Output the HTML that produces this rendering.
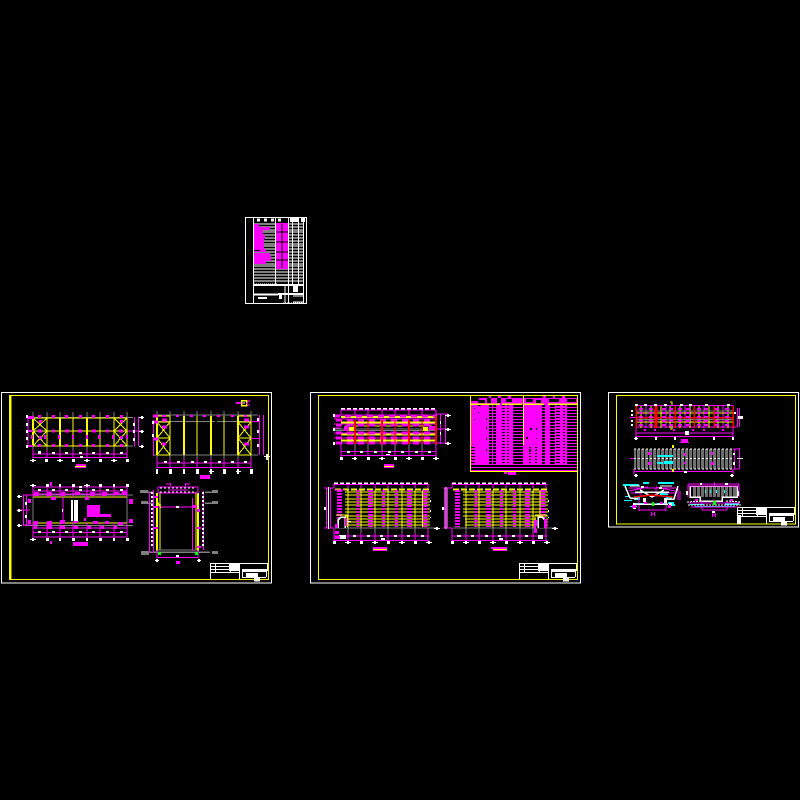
<!DOCTYPE html>
<html lang="en"><head><meta charset="utf-8"><title>Structural drawing sheets</title>
<style>html,body{margin:0;padding:0;background:#000}svg{display:block}</style></head>
<body>
<svg xmlns="http://www.w3.org/2000/svg" width="800" height="800" viewBox="0 0 800 800" shape-rendering="crispEdges" fill="none">
<defs>
<pattern id="st" width="4" height="3" patternUnits="userSpaceOnUse"><rect width="4" height="3" fill="#f0f"/><rect width="4" height="2" fill="#000"/></pattern>
<pattern id="st2" width="4" height="3" patternUnits="userSpaceOnUse"><rect width="4" height="3" fill="#f0f"/><rect width="4" height="1" fill="#000"/></pattern>
<pattern id="gs" width="4" height="4" patternUnits="userSpaceOnUse"><rect width="4" height="4" fill="#6e6e6e"/><rect width="1" height="4" fill="#000"/></pattern>
<g id="tb">
<path stroke="#fff" d="M0 .5H58M.5 0V16.5M29.5 0V16.5M0 9.5H29M5.5 0V9M20.5 0V9M0 3.500H20M0 6.500H20M57.500 0V8M32.500 9V14M56.500 9V14M32 14.500H56"/>
<path fill="#fff" d="M19 1h10v7h-10zM32 6h25v3h-25zM36 10h12v5h-12zM44 15h6v3.500h-6z"/>
</g>
<g id="fg">
<path stroke="#fff" stroke-width="1.500" stroke-dasharray="4 2" d="M334 483H430"/>
<path stroke="#f0f" d="M334 484.500H429M334 484V488M348 484V488M361 484V488M375 484V488M388 484V488M402 484V488M415 484V488M428 484V490"/>
<path stroke="#ff0" d="M345 492H430M345 495H430M345 499H430M345 502H430M345 505H430M345 509H430M345 512H430M345 516H430M347 519H430M347 522H430M347 525H430M348 490V528M361 490V528M375 490V528M388 490V528M402 490V528M415 490V528"/>
<path stroke="#ff0" stroke-width="2" stroke-dasharray="6 2" d="M335 489.500H430"/>
<path stroke="#f0f" stroke-width="5" stroke-dasharray="2 1" d="M339.500 490V527M370.500 490V527M409.500 490V527M425 490V527"/>
<path stroke="#f0f" stroke-width="3" stroke-dasharray="2 1" d="M358 490V527M383.500 490V527M396.500 490V527"/>
<path stroke="#808080" d="M335 528H437M348 528V536M361 528V536M375 528V536M388 528V536M402 528V536M415 528V536M428 528V536"/>
<path stroke="#f0f" d="M334 536H429M334 540.500H429M334 528V544M348 533V542M361 533V542M375 533V542M388 533V542M402 533V542M415 533V542M428 528V542"/>
<path stroke="#fff" stroke-width="2" d="M339 536h4M353 536h3M367 536h3M380 536h3M394 536h3M407 536h3M421 536h3M381 539h4"/>
<path fill="#fff" d="M333 541h3v3h-3zM347 541h2v3h-2zM345 542h6v1h-6zM360 541h3v3h-3zM374 541h2v3h-2zM372 542h6v1h-6zM387 541h3v3h-3zM401 541h2v3h-2zM399 542h6v1h-6zM414 541h3v3h-3zM428 541h2v3h-2zM426 542h6v1h-6z"/>
</g>
</defs>

<!-- SHEET 0 index table -->
<path stroke="#fff" d="M245.500 217.500H306.500V303.500H245.500ZM253.500 218V303M275.500 218V285M288.500 218V303M292.500 218V285M298.500 218V285M303.500 218V303"/>
<path stroke="#fff" d="M254 224H303M254 227H303M254 230H303M254 232H303M254 235H303M254 238H303M254 241H303M254 244H303M254 246H303M254 249H303M254 252H303M254 255H303M254 258H303M254 261H303M254 264H303M254 266H303M254 269H303M254 272H303M254 275H303M254 278H303M254 281H303"/>
<path stroke="#fff" stroke-width="2" d="M254 285H303M254 294.500H278M278 294H303" />
<path fill="#f0f" d="M254 224h5v3h11v3h-7v5h2v4h-1v10h2v3h-12zM254 253h16v3h1v5h-5v3h-12zM276 223h12v46h-12z"/>
<path stroke="#000" d="M254 250.500H260M276 232H288M276 242H288M276 252H288M276 260H288M282 224V268"/>
<path stroke="#fff" stroke-width="3" stroke-dasharray="3 4" d="M257 220H282"/>
<path stroke="#fff" stroke-width="4" stroke-dasharray="8 3" d="M290 220H305"/>
<path fill="#fff" d="M258 297h9v2h-9zM279 295h3v4h-3zM293 286h5v6h-5z"/>
<path stroke="#fff" d="M285 286V303M293 296H303M293 302H303"/>
<path stroke="#fff" stroke-dasharray="1 1" d="M254 284H278M283 303H303"/>

<!-- SHEET 1 -->
<path stroke="#fff" stroke-width="1.300" d="M1.500 392.500H271.500V583H1.500Z"/>
<path stroke="#ff0" d="M11 395.500H268.500V579.500H11Z"/><path stroke="#ff0" stroke-width="2" d="M10 395V580"/>
<use href="#tb" x="210" y="563"/>

<!-- plan A -->
<path stroke="#808080" d="M33 412V450M47 412V450M60 412V450M73 412V450M87 412V450M100 412V450M114 412V450M127 412V450M28 417.500H133M28 446H133M28 431H140"/>
<path stroke="#ff0" d="M33 418H127M33 431H127M33 446H127M47 418V446M73 418V446M100 418V446M114 418V446M127 418V446M33 418L47 431M47 418L33 431M33 431L47 446M47 431L33 446M114 418L127 431M127 418L114 431M114 431L127 446M127 431L114 446"/>
<path stroke="#ff0" stroke-width="2" d="M33 418V446M60 418V446M87 418V446"/>
<path stroke="#f0f" stroke-width="3" d="M38 416.500h3M52 416.500h3M65 416.500h3M79 416.500h3M92 416.500h3M106 416.500h3M120 416.500h3M38 431h4M52 431h3M65 431h4M78 431h4M92 431h4M106 431h3M119 431h4M38 445.500h3M52 445.500h3M65 445.500h3M79 445.500h3M92 445.500h3M106 445.500h3M120 445.500h3M39 421.500h3M120 421.500h3M39 437.500h3M120 437.500h3"/>
<path stroke="#f0f" stroke-width="2" d="M32 435V439M45 435V439M59 435V439M73 435V439M87 435V439M99 435V439M113 435V439M127 435V439"/>
<path fill="#f0f" d="M27 416h7v3h-7zM27 430h6v2h-6zM27 445h6v2h-6z"/>
<path stroke="#f0f" d="M28 417V446M134.500 417V446M138.500 417V446M128 431H142M33 454H127M33 457.500H127M33 449V458M47 450V458M60 450V458M73 450V458M87 450V458M100 450V458M114 450V458M127 450V458"/>
<path fill="#fff" d="M26 415h2v3h-2zM26 423h2v3h-2zM26 430h2v3h-2zM26 437h2v3h-2zM26 445h2v3h-2zM133 423h2v3h-2zM133 430h2v3h-2zM133 438h2v3h-2zM141 416h2v3h-2zM139 417h5v1h-5zM141 430h2v3h-2zM139 431h5v1h-5zM141 445h2v3h-2zM139 446h5v1h-5zM38 451h3v3h-3zM52 452h3v2h-3zM65 452h3v2h-3zM79 452h3v2h-3zM92 452h3v2h-3zM106 452h3v2h-3zM120 452h3v2h-3zM80 456h3v2h-3zM32 459h2v3h-2zM30 460h6v1h-6zM45 459h3v3h-3zM59 459h2v3h-2zM57 460h6v1h-6zM72 459h3v3h-3zM86 459h2v3h-2zM84 460h6v1h-6zM99 459h3v3h-3zM113 459h2v3h-2zM111 460h6v1h-6zM126 459h3v3h-3z"/>
<path fill="#f0f" d="M76 464h10v2h-10zM75 467h11v1h-11z"/><path stroke="#ff0" d="M75 466.500H86"/>

<!-- plan B -->
<path stroke="#808080" d="M157 411V459M170 411V459M184 411V459M197 411V459M211 411V459M224 411V459M238 411V459M251 411V459M153 415H258M153 455H258"/>
<path stroke="#808080" stroke-width="1" stroke-dasharray="30 2" d="M153 421.500H258"/>
<path stroke="#ff0" d="M157 416H170M238 416H251M157 438H170M238 438H251M157 422H170M238 422H251M157 455H170M238 455H251M170 416V455M197 416V455M224 416V455M251 416V455M157 422L170 438M170 422L157 438M157 438L170 455M170 438L157 455M238 422L251 438M251 422L238 438M238 438L251 455M251 438L238 455"/>
<path stroke="#ff0" stroke-width="2" d="M157 416V455M184 416V455M211 416V455M238 416V455"/>
<path stroke="#f0f" stroke-width="3" d="M162 420h5M244 420h5M162 427h5M244 427h5M162 444h4M244 444h5M153 416h5M153 422h5M153 439h5"/>
<path stroke="#f0f" stroke-width="2" d="M162 416h4M176 416h3M190 416h3M203 416h3M217 416h3M231 416h3M244 416h3"/>
<path stroke="#f0f" d="M153.500 420V456M259.500 415V455M263.500 415V455M251 421.500H259M251 438.500H259M157 463H251M157 467.500H251M157 458V468M170 459V468M184 459V468M197 459V468M211 459V468M224 459V468M238 459V468M251 458V468"/>
<path fill="#fff" d="M152 421h2v3h-2zM152 434h2v3h-2zM257 418h2v3h-2zM257 430h2v3h-2zM257 444h2v3h-2zM164 461h3v2h-3zM177 461h3v2h-3zM191 461h3v2h-3zM204 461h3v2h-3zM218 461h3v2h-3zM231 461h3v2h-3zM244 461h3v2h-3zM156 469h2v5h-2zM169 469h3v5h-3zM183 469h2v5h-2zM196 469h3v5h-3zM210 469h2v5h-2zM209 471h5v1h-5zM223 469h3v5h-3zM237 469h2v5h-2zM236 471h5v1h-5zM250 469h3v5h-3zM266 454h2v6h-2zM264 456h6v1h-6z"/>
<path fill="#f0f" d="M200 475h10v4h-10zM236 402h5v2h-5z"/>
<path stroke="#ff0" stroke-width="1.500" d="M241.500 400.500H246.500V405.500H241.500Z"/><path stroke="#f0f" d="M246 404L250 400M247 405H250"/><path stroke="#fff" d="M243 403H245"/>

<!-- plan C -->
<path stroke="#808080" d="M33 487V530M127 487V530M25 495H133M25 525.500H133"/>
<path stroke="#ff0" d="M33 497H127M33 523H127"/>
<path stroke="#f0f" d="M33 487H127M33 491H127M33 494H127M33 528H127M33 532.500H127M33 537H127M47 487V497M60 487V497M73 487V497M87 487V497M100 487V497M114 487V497M47 523V537M60 523V537M73 523V537M87 523V537M100 523V537M114 523V537M33 487V497M127 487V497M33 523V537M127 523V537M23.500 495V526M26.500 495V526M63 497V523M17 510H30M23 495H33M23 525H33"/>
<path fill="#f0f" d="M34 492h5v4h-5zM47 492h5v4h-5zM61 492h4v4h-4zM75 492h5v3h-5zM90 492h5v4h-5zM102 492h5v4h-5zM114 492h5v3h-5zM122 491h5v4h-5zM34 521h4v4h-4zM47 521h5v5h-5zM60 520h5v4h-5zM73 521h5v2h-5zM93 521h5v3h-5zM105 521h4v3h-4zM118 522h5v3h-5zM34 526h3v3h-3zM47 526h5v3h-5zM60 526h5v3h-5zM74 526h4v3h-4zM88 526h3v3h-3zM101 526h3v3h-3zM114 526h3v3h-3zM129 499h4v5h-4zM129 519h4v4h-4zM28 499h3v4h-3zM28 520h3v4h-3zM50 482h2v4h-2zM50 541h2v3h-2zM87 505h13v12h-13zM100 514h11v3h-11zM73 542h15v4h-15zM84 518h2v3h-2zM51 497h5v3h-5zM85 497h4v3h-4z"/>
<path fill="#fff" d="M71 500h2v21h-2zM74 500h4v21h-4zM62 509h1v3h-1zM79 486h3v2h-3zM38 489h3v2h-3zM52 489h3v2h-3zM65 489h3v2h-3zM79 489h3v2h-3zM92 489h3v2h-3zM106 489h3v2h-3zM120 489h3v2h-3zM38 531h3v2h-3zM52 531h3v2h-3zM65 531h3v2h-3zM79 531h3v2h-3zM92 531h3v2h-3zM106 531h3v2h-3zM120 531h3v2h-3zM32 484h2v3h-2zM30 485h6v1h-6zM46 484h3v3h-3zM59 484h2v3h-2zM72 484h3v3h-3zM86 484h2v3h-2zM84 485h6v1h-6zM99 484h3v3h-3zM113 484h2v3h-2zM126 484h3v3h-3zM32 538h2v3h-2zM30 539h6v1h-6zM46 538h3v3h-3zM59 538h2v3h-2zM72 538h3v3h-3zM86 538h2v3h-2zM99 538h3v3h-3zM113 538h2v3h-2zM126 538h3v3h-3zM18 495h2v3h-2zM17 496h5v1h-5zM18 509h2v3h-2zM17 510h5v1h-5zM18 524h2v3h-2zM17 525h5v1h-5zM25 502h2v3h-2zM25 515h2v3h-2z"/>

<!-- section D -->
<path stroke="#808080" stroke-width="1.500" d="M146 552H210M146 492H153M205 492H212M146 503H153M205 503H212"/>
<path fill="#808080" d="M140 490h8v3h-8zM141 501h7v3h-7zM141 551h8v4h-8zM212 490h6v3h-6zM212 501h6v3h-6zM212 551h6v3h-6z"/>
<path stroke="#ff0" stroke-width="2" d="M157 493V551M198 493V551"/><path stroke="#ff0" d="M160 492V550M196 492V550M158 493H171M184 493H197"/>
<path stroke="#808080" d="M157 550H198"/>
<path stroke="#f0f" d="M149.500 492V553M153.500 490V553M203.500 491V550M192.500 498V551M158 507H192M158 487H198M158 493H198M158 487V493M198 487V493M168 490H188M157 557.500H198M157 550V558M198 550V558M166 484H171M185 484H190"/>
<path fill="#f0f" d="M170 483h1v3h-1zM185 483h1v3h-1zM176 561h4v3h-4zM154 496h4v2h-4zM154 506h4v2h-4zM154 527h4v2h-4zM197 509h3v3h-3zM193 505h4v3h-4zM197 527h4v2h-4zM197 546h4v2h-4z"/>
<path stroke="#fff" stroke-width="2" stroke-dasharray="2 2" d="M152 492V548M203 492V548"/>
<path stroke="#fff" stroke-dasharray="2 2" d="M160 488H196M160 492H196"/>
<path fill="#fff" d="M176 506h3v2h-3zM176 555h3v2h-3zM156 559h2v3h-2zM155 560h4v1h-4zM198 559h2v3h-2zM197 560h4v1h-4z"/>
<path fill="#0f0" d="M158 552h3v3h-3zM195 552h3v3h-3z"/>
<path stroke="#ff0" d="M156 505H161M157 501L161 508"/>

<!-- SHEET 2 -->
<path stroke="#fff" stroke-width="1.300" d="M310.500 392.500H580.500V583H310.500Z"/>
<path stroke="#ff0" d="M318.500 395.500H577.500V579.500H318.500Z"/>
<use href="#tb" x="519" y="563"/>

<!-- plan E -->
<path stroke="#fff" stroke-width="1.500" stroke-dasharray="4 2" d="M341 408.500H436"/>
<path stroke="#f0f" d="M341 410H436M341 410V415M355 410V415M368 410V415M382 410V415M395 410V415M409 410V415M422 410V415M436 410V415M440.500 414V444M445.500 414V444M436 414H448M436 429H448M436 443H448"/>
<path stroke="#808080" d="M335 429H436M335 430.500H436"/>
<path stroke="#ff0" stroke-width="2" d="M341 417H436M341 422.500H436M341 434.500H436M341 440.500H436"/>
<path stroke="#ff0" d="M345 426H432"/>
<path stroke="#f0f" stroke-width="3" stroke-dasharray="6 5" d="M334 416H437M336 420H437M336 425H437M336 433H437M336 438H437M336 443H437"/>
<path stroke="#f0f" d="M334 415H436M334 419H436M334 424H436M334 428H341M334 433H436M334 438H436M334 443H436"/>
<path stroke="#f00" stroke-width="2" d="M355 420V444M382 420V444M409 420V444M436 416V444"/><path stroke="#f00" d="M368 420V444M395 420V444M422 420V444"/>
<path fill="#ff0" d="M349 427h5v4h-5zM423 427h5v4h-5z"/><path fill="#f0f" d="M344 426h5v5h-5zM429 426h6v4h-6z"/>
<path stroke="#808080" d="M341 444V451M355 444V451M368 444V451M382 444V451M395 444V451M409 444V451M422 444V451M436 444V451"/>
<path stroke="#f0f" d="M341 445V457M341 451.500H436M341 455.500H436M355 451V456M368 451V456M382 451V456M395 451V456M409 451V456M422 451V456M436 445V457"/>
<path fill="#fff" d="M347 451h3v2h-3zM360 451h3v2h-3zM374 451h3v2h-3zM388 451h3v2h-3zM401 451h3v2h-3zM415 451h3v2h-3zM428 451h3v2h-3zM386 454h4v1h-4zM340 457h3v3h-3zM354 457h2v3h-2zM352 458h5v1h-5zM367 457h3v3h-3zM381 457h2v3h-2zM379 458h6v1h-6zM394 457h3v3h-3zM408 457h2v3h-2zM406 458h6v1h-6zM421 457h3v3h-3zM435 457h2v3h-2zM433 458h6v1h-6zM333 414h2v3h-2zM333 428h2v3h-2zM333 442h2v3h-2zM447 414h2v3h-2zM445 415h6v1h-6zM447 428h2v3h-2zM445 429h6v1h-6zM447 442h2v3h-2zM445 443h6v1h-6zM440 421h1v3h-1zM440 432h1v3h-1z"/>
<path fill="#f0f" d="M384 464h10v2h-10zM384 467h10v1h-10z"/><path stroke="#ff0" d="M384 466.500H394"/>

<!-- table -->
<path fill="#f0f" d="M470 396h107v75h-107z"/>
<path fill="url(#st)" d="M513 404h10v67h-10zM567 404h10v67h-10zM489 404h3v67h-3zM493 404h3v67h-3zM550 404h5v67h-5zM542 404h3v67h-3zM470 465h107v6h-107z"/>
<path fill="url(#st2)" d="M502 404h3v61h-3zM507 404h2v61h-2zM556 404h4v61h-4zM563 404h2v61h-2zM470 447h5v18h-5zM529 447h2v18h-2zM535 447h2v18h-2z"/>
<path fill="#000" d="M470 396h107v2h-107zM470 398h9v3h-9zM478 400h7v3h-7zM487 398h4v5h-4zM497 398h4v5h-4zM506 399h6v3h-6zM526 399h7v3h-7zM536 400h5v3h-5zM549 399h10v3h-10zM567 399h9v3h-9z"/>
<path fill="#f0f" d="M489 395h2v3h-2zM498 395h3v3h-3zM508 395h3v3h-3zM543 395h3v3h-3zM553 395h2v3h-2zM562 395h3v3h-3zM473 402h3v1h-3zM515 402h8v2h-8z"/>
<path fill="#000" d="M474 408h1v1h-1zM474 419h1v1h-1zM486 418h1v2h-1zM486 427h1v2h-1zM486 438h1v2h-1zM486 449h1v2h-1zM530 428h2v2h-2zM526 437h2v2h-2zM536 428h1v2h-1zM536 438h1v1h-1zM536 449h1v1h-1zM529 449h2v3h-2zM478 405h3v1h-3zM478 412h1v1h-1z"/>
<path stroke="#ff0" d="M470.500 395V471.500H577.500V395M523.500 395V445M470 395.500H577"/>
<path stroke="#ff0" stroke-width="1.500" d="M471 404H500M502 404H522M524 404H544M548 404H577"/>
<path fill="#f0f" d="M504 472h3v2h-3zM508 472h8v3h-8z"/>

<!-- plans F and G -->
<use href="#fg"/>
<use href="#fg" x="118"/>
<path stroke="#f0f" d="M326.500 488V528M330.500 488V528M324 488H334M324 528H334M334 490H345"/>
<path stroke="#fff" d="M328.500 487V529"/>
<path fill="#fff" d="M324 507h2v3h-2zM436 527h2v3h-2zM434 528h6v1h-6zM347 521h4v1h-4zM430 500h1v2h-1zM430 510h1v2h-1zM430 517h1v1h-1z"/>
<path stroke="#ff0" d="M422.500 490V527"/><path stroke="#ff0" d="M336 515H347V527"/>
<path fill="#000" d="M338 518h9v10h-9z"/>
<path stroke="#fff" stroke-width="1.500" d="M338 528V520L341 517H345V528"/><path fill="#fff" d="M340 535h6v4h-6z"/>
<path fill="#f0f" d="M335 524h3v4h-3zM345 518h2v8h-2zM335 531h4v3h-4zM335 536h5v3h-5z"/>
<path fill="#f0f" d="M373 547h14v2h-14zM491 547h16v2h-16zM373 550h14v1h-14zM493 550h14v1h-14z"/><path stroke="#ff0" d="M373 549.500H387M493 549.500H507"/>
<path stroke="#f0f" d="M444.500 488V528M447.500 488V528M443 488H452M443 528H452"/>
<path stroke="#fff" d="M446 487V529"/>
<path fill="#fff" d="M442 507h2v3h-2zM554 527h2v3h-2zM552 528h6v1h-6zM548 500h1v2h-1zM548 510h1v2h-1zM548 517h1v1h-1z"/>
<path stroke="#ff0" d="M540 490V515M535 517V527M535 515H547"/>
<path fill="#000" d="M536 518h10v10h-10z"/>
<path stroke="#fff" stroke-width="1.500" d="M545 528V520L542 517H538V528"/><path fill="#fff" d="M538 535h5v4h-5z"/>
<path fill="#f0f" d="M544 519h3v9h-3zM534 520h3v6h-3zM534 529h3v4h-3zM534 524h2v8h-2z"/>

<!-- SHEET 3 -->
<path stroke="#fff" stroke-width="1.300" d="M608.500 392.500H798.500V527H608.500Z"/>
<path stroke="#ff0" d="M616.500 395.500H795.500V524H616.500Z"/>
<use href="#tb" x="737" y="507"/>
<path fill="#fff" d="M737 515h4v9h-4z"/>

<!-- plan H -->
<path stroke="#f0f" d="M636 405.500H733M636 427H737M636 406V428M646 406V428M656 406V428M666 406V428M675 406V428M685 406V428M694 406V428M704 406V428M714 406V428M723 406V428M733 406V428M737.500 408V427M739.500 408V427M630 417.500H636M636 433H733M636 436.500H733M636 428V437M733 428V437"/>
<path stroke="#ff0" d="M636 413H733M636 422H733M641 406V428M651 406V428M661 406V428M670 406V428M680 406V428M690 406V428M699 406V428M709 406V428M718 406V428M728 406V428"/>
<path stroke="#808080" d="M636 419.500H733M636 411H733"/>
<path stroke="#f00" stroke-width="1.500" d="M636 417.500H733M636 406V428M675 406V428M694 406V428M714 406V428M733 406V428"/>
<path stroke="#f00" stroke-width="3" d="M656 406V428"/>
<path stroke="#f0f" stroke-width="4" stroke-dasharray="2 2" d="M641 408V428M651 408V428M664 408V428M671 408V428M680 408V428M688 408V428M699 408V428M706 408V428M717 408V428M727 408V428"/>
<path fill="#fff" d="M635 404h3v2h-3zM644 404h3v2h-3zM654 404h3v2h-3zM664 404h3v2h-3zM680 404h3v2h-3zM689 404h3v2h-3zM705 404h3v2h-3zM727 404h3v2h-3zM631 410h2v2h-2zM631 414h2v2h-2zM631 420h2v2h-2zM631 424h2v2h-2zM738 416h5v3h-5zM734 412h2v2h-2zM685 431h4v4h-4zM635 437h2v3h-2zM634 438h4v1h-4zM655 437h2v3h-2zM674 437h2v3h-2zM713 437h2v3h-2zM732 437h2v3h-2z"/>
<path stroke="#ff0" d="M670 402H672V405M670 429H672V426"/>
<path fill="#f0f" d="M681 439h7v3h-7zM680 442h9v1h-9zM644 429h2v2h-2zM654 429h2v2h-2zM673 429h2v2h-2zM692 429h2v2h-2zM703 429h2v2h-2zM722 429h2v2h-2z"/>

<!-- plan I -->
<path fill="url(#gs)" d="M634 449h99v20h-99z"/>
<path stroke="#fff" stroke-dasharray="2 2" d="M634 449H733M634 458.500H733M634 469H733"/>
<path fill="#0ff" d="M657 455h16v2h-16zM657 462h6v2h-6zM664 461h9v3h-9z"/>
<path fill="#f0f" d="M648 452h3v3h-3zM684 453h2v3h-2zM711 452h2v3h-2zM648 462h3v3h-3zM684 462h2v2h-2zM711 462h3v3h-3zM630 458h4v1h-4z"/>
<path stroke="#f0f" d="M634 471.500H733M634 469V475M733 469V475M734.500 449V469M739.500 448V469M733 449H739M733 469H739"/>
<path fill="#ff0" d="M672 445h2v3h-2zM672 469h2v3h-2z"/>
<path fill="#fff" d="M684 471h3v2h-3zM635 474h2v3h-2zM634 475h4v1h-4zM731 474h2v3h-2zM730 475h4v1h-4zM737 458h6v1h-6zM733 453h2v2h-2zM733 462h2v3h-2z"/>

<!-- section J -->
<path fill="#0ff" d="M623 484h16v2h-16zM643 482h6v2h-6zM658 482h16v2h-16zM625 496h4v1h-4zM660 493h8v2h-8zM634 497h6v3h-6zM666 497h6v3h-6zM624 500h8v1h-8zM636 503h8v2h-8zM657 503h10v2h-10zM668 502h6v2h-6zM630 506h7v1h-7zM670 504h5v2h-5z"/>
<path stroke="#f0f" d="M629 488H678M678 488V500M680 491V500M641 487V497M656 488V497M639 498V511M666 498V511M639 510H666M629 491L648 487M675 491L656 487M631 493H640M665 493H676"/>
<path stroke="#fff" stroke-width="1.500" d="M625 486L630 498L638 499M640 490L652 497L664 490M678 486L674 499L666 499M635 492H669M636 504H668"/>
<path stroke="#fff" d="M630 486L640 486M660 486H672"/>
<path stroke="#f00" stroke-width="1.500" d="M634 497L652 495L673 497"/>
<path fill="#fff" d="M641 486h3v2h-3zM659 487h3v2h-3zM643 498h3v4h-3zM664 498h3v5h-3zM633 503h3v3h-3zM669 503h3v3h-3zM633 507h3v2h-3z"/>
<path fill="#f0f" d="M632 505h4v3h-4zM668 505h3v3h-3zM644 502h3v2h-3zM660 502h3v2h-3z"/>
<path fill="#0f0" d="M652 502h2v4h-2z"/>
<path stroke="#f0f" d="M651.500 512V516M654.500 512V516M651 514H655"/>

<!-- section K -->
<path fill="url(#gs)" d="M692 487h45v10h-45z"/>
<path stroke="#fff" stroke-width="1.500" d="M690 486V497H700V501H722V497H737V486H690"/>
<path stroke="#f0f" d="M688 486H739M688 484H739M688 484V497M739 484V497M702 501V510M727 501V510M702 510H727"/>
<path fill="#f0f" d="M714 482h1v4h-1zM695 499h3v2h-3zM730 499h3v2h-3z"/>
<path fill="#0ff" d="M705 490h1v3h-1zM710 490h1v3h-1zM716 490h1v3h-1zM724 490h1v3h-1zM690 504h14v1h-14zM725 503h14v2h-14zM695 506h40v1h-40z"/>
<path stroke="#fff" stroke-dasharray="2 1" d="M687 502L703 501M726 501L741 502M688 505H741"/>
<path stroke="#f0f" d="M689 503H740M691 507H738"/>
<path fill="#0f0" d="M713 501h3v4h-3z"/>
<path fill="#fff" d="M700 483h2v2h-2zM725 483h3v2h-3zM686 491h2v4h-2zM737 491h2v5h-2zM712 511h3v2h-3z"/>
<path stroke="#f0f" d="M712.500 513V517M715.500 513V517M712 515H716"/>
</svg>
</body></html>
